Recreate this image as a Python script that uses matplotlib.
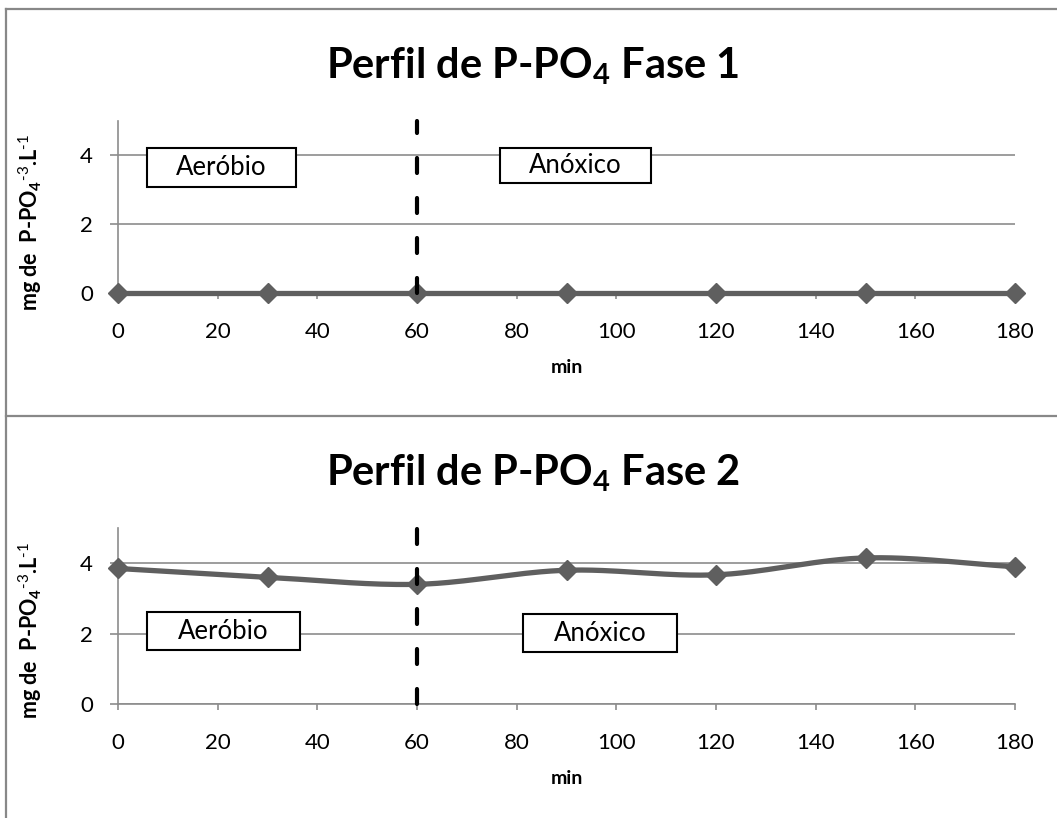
import matplotlib
matplotlib.use("Agg")
import matplotlib.pyplot as plt
from matplotlib.lines import Line2D
from matplotlib.patches import Rectangle
import numpy as np

plt.rcParams['font.family'] = ['Lato', 'DejaVu Sans']
plt.rcParams['mathtext.fontset'] = 'custom'
plt.rcParams['mathtext.bf'] = 'Lato:bold'
plt.rcParams['mathtext.rm'] = 'Lato'
plt.rcParams['mathtext.default'] = 'bf'

# ---- data ----
minutes = [0, 30, 60, 90, 120, 150, 180]
fase1 = [0, 0, 0, 0, 0, 0, 0]
fase2 = [3.85, 3.6, 3.4, 3.8, 3.67, 4.15, 3.9]
titles = ["Perfil de P-PO$_4$ Fase 1", "Perfil de P-PO$_4$ Fase 2"]
ylabel = r"mg de  P-PO$_4$$^{\text{-3}}$.L$^{\text{-1}}$"
xlabel = "min"
xticks = [0, 20, 40, 60, 80, 100, 120, 140, 160, 180]
yticks = [0, 2, 4]
phase_change = 60
# label boxes (x0, x1, y0, y1) in data units
boxes1 = {"Aeróbio": (5.8, 35.7, 3.07, 4.2), "Anóxico": (76.7, 107.0, 3.19, 4.2)}
boxes2 = {"Aeróbio": (5.8, 36.5, 1.53, 2.61), "Anóxico": (81.3, 112.2, 1.48, 2.55)}

W, H = 1057, 818
fig = plt.figure(figsize=(W / 100, H / 100), dpi=100)

LINE_C = '#5f5f5f'
GRID_C = '#8c8c8c'


def smooth(x, y, n=30):
    P = np.column_stack([np.asarray(x, float), np.asarray(y, float)])
    out = []
    for i in range(len(P) - 1):
        p1 = P[i]; p2 = P[i + 1]
        m1 = (P[i + 1] - P[i - 1]) / 2 if i > 0 else (p2 - p1)
        m2 = (P[i + 2] - P[i]) / 2 if i + 2 < len(P) else (p2 - p1)
        t = np.linspace(0, 1, n)[:, None]
        h00 = 2 * t**3 - 3 * t**2 + 1; h10 = t**3 - 2 * t**2 + t
        h01 = -2 * t**3 + 3 * t**2; h11 = t**3 - t**2
        seg = h00 * p1 + h10 * m1 + h01 * p2 + h11 * m2
        out.append(seg if i == 0 else seg[1:])
    S = np.vstack(out)
    return S[:, 0], S[:, 1]


def panel(rect, yvals, title, title_y, ylab_y, boxes):
    ax = fig.add_axes(rect)
    ax.set_xlim(0, 180)
    ax.set_ylim(0, 5)
    for s in ['top', 'right']:
        ax.spines[s].set_visible(False)
    for s in ['left', 'bottom']:
        ax.spines[s].set_color(GRID_C)
        ax.spines[s].set_linewidth(1.2)
    ax.set_yticks(yticks)
    ax.set_xticks(xticks)
    ax.tick_params(axis='y', length=6, width=1.2, color=GRID_C, pad=12, labelsize=16)
    ax.tick_params(axis='x', length=4, width=1.2, color=GRID_C, pad=17, labelsize=16)
    ax.yaxis.grid(True, color=GRID_C, lw=1.2)
    ax.set_axisbelow(True)
    ax.set_xlabel(xlabel, fontweight='bold', fontsize=14, labelpad=12)
    sx, sy = smooth(minutes, yvals)
    ax.plot(sx, sy, color=LINE_C, lw=3.8, clip_on=False, zorder=4, solid_capstyle='round')
    ax.plot(minutes, yvals, ls='none', marker='D', ms=10, color=LINE_C, clip_on=False, zorder=5)
    ax.plot([phase_change, phase_change], [0, 5], color='black', lw=3,
            ls=(0, (3.6, 6.0)), dash_capstyle='round', zorder=6, clip_on=False)
    for label, (x0, x1, y0, y1) in boxes.items():
        ax.add_patch(Rectangle((x0, y0), x1 - x0, y1 - y0, facecolor='white',
                               edgecolor='black', lw=1.5, zorder=3, clip_on=False))
        ax.text((x0 + x1) / 2, (y0 + y1) / 2, label, ha='center', va='center',
                fontsize=18.5, zorder=3.5)
    fig.text(533 / W, title_y, title, ha='center', va='center', fontsize=30,
             fontweight='bold')
    fig.text(30 / W, ylab_y, ylabel, rotation=90, ha='center', va='center',
             fontsize=15.5, fontweight='bold')
    return ax


panel([118 / W, 1 - 293 / H, (1015 - 118) / W, (293 - 120.5) / H], fase1,
      titles[0], 1 - 66 / H, 1 - 222 / H, boxes1)
panel([118 / W, 1 - 704 / H, (1015 - 118) / W, (704 - 528) / H], fase2,
      titles[1], 1 - 473 / H, 1 - 630 / H, boxes2)

# panel frames
FC = '#888888'
fig.add_artist(Line2D([5.5 / W, 5.5 / W], [0, 1 - 8.5 / H], color=FC, lw=1.6))
fig.add_artist(Line2D([5.5 / W, 1], [1 - 8.5 / H, 1 - 8.5 / H], color=FC, lw=1.6))
fig.add_artist(Line2D([5.5 / W, 1], [1 - 416 / H, 1 - 416 / H], color=FC, lw=1.6))

fig.savefig("out.png", dpi=100)
